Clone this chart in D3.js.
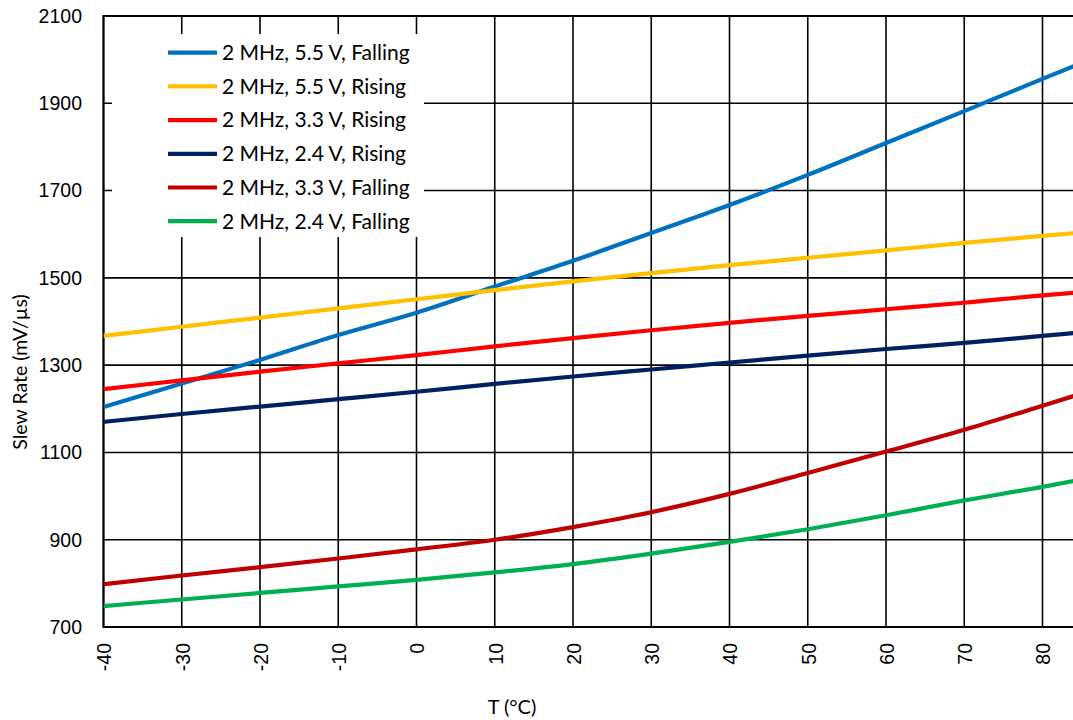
<!DOCTYPE html>
<html><head><meta charset="utf-8">
<script src="https://cdn.jsdelivr.net/npm/d3@7"></script>
<style>body{margin:0;background:#fff}svg{display:block}</style>
</head><body>
<svg id="c" width="1073" height="720"></svg>
<script>
const temps = [-40,-30,-20,-10,0,10,20,30,40,50,60,70,80,85];
const seriesNames = ["2 MHz, 5.5 V, Falling","2 MHz, 5.5 V, Rising","2 MHz, 3.3 V, Rising","2 MHz, 2.4 V, Rising","2 MHz, 3.3 V, Falling","2 MHz, 2.4 V, Falling"];
const seriesColors = ["#0070C0","#FFC000","#FF0000","#002060","#C00000","#00B050"];
const falling55 = [1204,1258,1312,1369,1420,1480,1539,1603,1667,1736,1809,1882,1956,1992];
const rising55  = [1367,1388,1409,1430,1451,1472,1492,1511,1529,1546,1563,1580,1596,1604];
const rising33  = [1245,1265,1285,1304,1323,1343,1362,1380,1397,1413,1428,1443,1460,1467];
const rising24  = [1170,1188,1205,1222,1239,1257,1274,1290,1306,1322,1337,1351,1367,1375];
const falling33 = [798,818,837,857,878,900,929,963,1005,1053,1102,1152,1207,1235];
const falling24 = [748,763,778,793,808,825,844,868,895,924,956,990,1021,1038];
const seriesValues = [falling55,rising55,rising33,rising24,falling33,falling24];
const xTicks = [-40,-30,-20,-10,0,10,20,30,40,50,60,70,80];
const yTicks = [700,900,1100,1300,1500,1700,1900,2100];

const svg = d3.select("#c");
const L = 103.5, T = 16, B = 627;
const x = d3.scaleLinear().domain([-40,85]).range([L, L + 125*7.825]);
const y = d3.scaleLinear().domain([700,2100]).range([B, T]);
const R = x(85);

svg.append("defs").append("clipPath").attr("id","pc")
  .append("rect").attr("x",L).attr("y",T).attr("width",R-L).attr("height",B-T);

const g = svg.append("g");
g.selectAll("line.vg").data(xTicks).join("line")
  .attr("x1",d=>x(d)).attr("x2",d=>x(d)).attr("y1",T).attr("y2",B)
  .attr("stroke","#000").attr("stroke-width",1.6);
g.selectAll("line.hg").data(yTicks).join("line")
  .attr("x1",L).attr("x2",R).attr("y1",d=>y(d)).attr("y2",d=>y(d))
  .attr("stroke","#000").attr("stroke-width",1.6);

g.append("line").attr("x1",L).attr("x2",L).attr("y1",T-1).attr("y2",B+1).attr("stroke","#000").attr("stroke-width",2);
g.append("line").attr("x1",L).attr("x2",R).attr("y1",B).attr("y2",B).attr("stroke","#000").attr("stroke-width",2);
g.append("line").attr("x1",L).attr("x2",R).attr("y1",T).attr("y2",T).attr("stroke","#000").attr("stroke-width",2);

const line = d3.line().x((d,i)=>x(temps[i])).y(d=>y(d)).curve(d3.curveMonotoneX);
svg.append("g").attr("clip-path","url(#pc)")
  .selectAll("path").data(seriesValues).join("path")
  .attr("d",d=>line(d)).attr("fill","none")
  .attr("stroke",(d,i)=>seriesColors[i]).attr("stroke-width",4.2);

svg.append("g").selectAll("text").data(yTicks).join("text")
  .attr("x",82).attr("y",d=>y(d)).attr("dy","0.35em")
  .attr("text-anchor","end").attr("font-family","Liberation Sans, Arial, sans-serif")
  .attr("font-size",19.5).attr("fill","#000").text(d=>d);

svg.append("g").selectAll("text").data(xTicks).join("text")
  .attr("transform",d=>`translate(${x(d)+1},${643}) rotate(-90)`)
  .attr("dy","0.35em").attr("text-anchor","end")
  .attr("font-family","Liberation Sans, Arial, sans-serif")
  .attr("font-size",19.5).attr("fill","#000").text(d=>d);

svg.append("text").attr("x",512).attr("y",714).attr("text-anchor","middle")
  .attr("font-family","Lato, Open Sans, sans-serif").attr("font-size",20).text("T (°C)");
svg.append("text").attr("transform","translate(27,372) rotate(-90)").attr("text-anchor","middle")
  .attr("font-family","Lato, Open Sans, sans-serif").attr("font-size",19.5).text("Slew Rate (mV/µs)");

const lg = svg.append("g");
lg.append("rect").attr("x",112).attr("y",34).attr("width",312).attr("height",203).attr("fill","#fff");
const rows = lg.selectAll("g").data(seriesNames).join("g")
  .attr("transform",(d,i)=>`translate(0,${52.7+i*33.7})`);
rows.append("line").attr("x1",168).attr("x2",217).attr("y1",0).attr("y2",0)
  .attr("stroke",(d,i)=>seriesColors[i]).attr("stroke-width",4.2);
rows.append("text").attr("x",222).attr("y",0).attr("dy","0.35em")
  .attr("font-family","Lato, Open Sans, sans-serif").attr("font-size",21).attr("fill","#000")
  .text(d=>d);
</script>
</body></html>
